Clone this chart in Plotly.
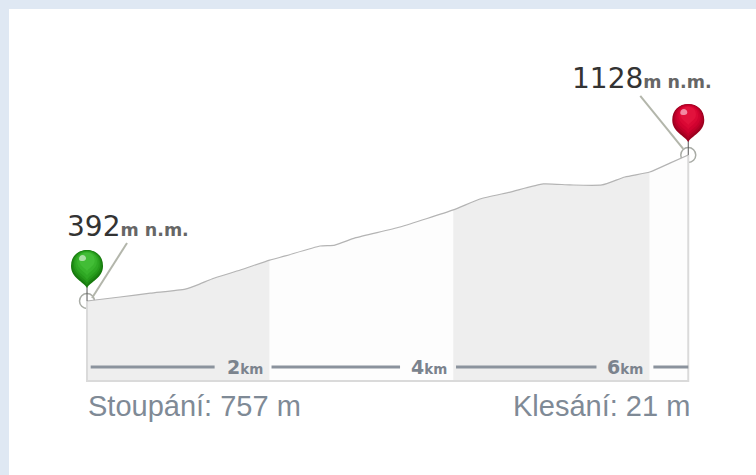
import plotly.graph_objects as go

# Data
distance_km = [0, 0.36, 0.69, 1.07, 1.23, 1.36, 1.67, 1.99, 2.16, 2.54, 2.70, 2.92, 3.41, 3.99,
               4.28, 4.61, 4.97, 5.26, 5.61, 5.86, 6.13, 6.35, 6.55]
elevation_m = [392, 412, 432, 452, 478, 503, 548, 598, 619, 669, 674, 710, 765, 851,
               906, 941, 982, 977, 977, 1017, 1042, 1087, 1128]
band_ends_idx = [0, 7, 13, 20, 22]
band_colors = ["#eeeeee", "#fdfdfd", "#eeeeee", "#fdfdfd"]
scale_segments = [(0.04, 1.39), (2.01, 3.41), (4.02, 5.55), (6.17, 6.55)]
scale_labels = ["2", "4", "6"]
scale_label_x = [1.72, 3.73, 5.86]
base_m = -11
scale_bar_m = 59
start_label, end_label = "392", "1128"
climb_text = "Stoupání: 757 m"
descent_text = "Klesání: 21 m"

W, H = 756, 475
fig = go.Figure()

# end rings, partly hidden by the fill drawn after them
fig.add_trace(go.Scatter(x=[distance_km[0], distance_km[-1]], y=[elevation_m[0], elevation_m[-1]],
                         mode="markers", hoverinfo="skip",
                         marker=dict(symbol="circle-open", size=15, color="#a9aca6", line=dict(width=1.5))))

# banded fill under the profile
for i, color in enumerate(band_colors):
    a, b = band_ends_idx[i], band_ends_idx[i + 1]
    xs = distance_km[a:b + 1]
    ys = elevation_m[a:b + 1]
    fig.add_trace(go.Scatter(x=xs + [xs[-1], xs[0]], y=ys + [base_m, base_m], mode="lines",
                             fill="toself", fillcolor=color, line=dict(width=0), hoverinfo="skip"))

# frame
fig.add_trace(go.Scatter(x=[distance_km[0], distance_km[0], distance_km[-1], distance_km[-1]],
                         y=[elevation_m[0], base_m, base_m, elevation_m[-1]], mode="lines",
                         line=dict(color="#dadada", width=2), hoverinfo="skip"))
# profile line
fig.add_trace(go.Scatter(x=distance_km, y=elevation_m, mode="lines",
                         line=dict(color="#b4b4b4", width=1.2, shape="spline", smoothing=0.5), hoverinfo="skip"))
# scale bars
for x0, x1 in scale_segments:
    fig.add_trace(go.Scatter(x=[x0, x1], y=[scale_bar_m, scale_bar_m], mode="lines",
                             line=dict(color="#8b939d", width=3), hoverinfo="skip"))


def pin_shape(path, ax, ay, **style):
    return dict(type="path", path=path, xref="x", yref="y", xsizemode="pixel", ysizemode="pixel",
                xanchor=ax, yanchor=ay, layer="above", **style)


def balloon(scale, dy=0):
    cy = 34 + dy
    pts = [(0, 13), (-3, 19), (-16, 23), (-16, 35), (-16, 45), (-9, 51), (0, 51),
           (9, 51), (16, 45), (16, 35), (16, 23), (3, 19), (0, 13)]
    p = [(round(x * scale, 2), round(cy + (y - 34) * scale, 2)) for x, y in pts]
    s = f"M {p[0][0]} {p[0][1]}"
    for i in range(1, len(p), 3):
        s += " C " + " ".join(f"{q[0]} {q[1]}" for q in p[i:i + 3])
    return s + " Z"


shapes = []
# page edges
shapes.append(dict(type="rect", xref="paper", yref="paper", x0=0, x1=9 / W, y0=0, y1=1,
                   fillcolor="#dfe8f3", line_width=0))
shapes.append(dict(type="rect", xref="paper", yref="paper", x0=0, x1=1, y0=1 - 9 / H, y1=1,
                   fillcolor="#dfe8f3", line_width=0))

pins = [
    (distance_km[0], elevation_m[0],
     ["#177a0e", "#1f8c15", "#279c1c", "#2fa824", "#38b32c", "#42bd36"], "#a9dfa2", (5, -3, 40, -58)),
    (distance_km[-1], elevation_m[-1],
     ["#9c001f", "#b00025", "#c2002a", "#d0022f", "#da0834", "#e2123c"], "#f28aa2", (-5, -6, -48, -59)),
]
for ax, ay, tones, shine, leader in pins:
    x0, y0, x1, y1 = leader
    shapes.append(dict(type="line", xref="x", yref="y", xsizemode="pixel", ysizemode="pixel",
                       xanchor=ax, yanchor=ay, x0=x0, y0=-y0, x1=x1, y1=-y1, layer="above",
                       line=dict(color="#b3b6ab", width=2)))
    shapes.append(dict(type="line", xref="x", yref="y", xsizemode="pixel", ysizemode="pixel",
                       xanchor=ax, yanchor=ay, x0=0, y0=0, x1=0, y1=14, layer="above",
                       line=dict(color="#555555", width=1)))
    for tone, sc, dy in zip(tones, [1.0, 0.92, 0.83, 0.74, 0.62, 0.48], [0, 1, 2, 3, 4.5, 6]):
        shapes.append(pin_shape(balloon(sc, dy), ax, ay, fillcolor=tone, line_width=0))
    shapes.append(pin_shape("M -8 42 C -8 46 -4 47 -2 45 C 0 43 -1 40 -4 40 C -6 40 -8 40 -8 42 Z",
                            ax, ay, fillcolor=shine, line_width=0))

ann = []


def px_text(x, y, text, anchor, size, color, family):
    ann.append(dict(x=x / W, y=1 - y / H, xref="paper", yref="paper", text=text, showarrow=False,
                    xanchor=anchor, yanchor="middle", font=dict(size=size, color=color, family=family)))


elev = "<span style='font-size:28px'>{}</span><b style='font-size:17.5px;color:#666'>m n.m.</b>"
px_text(65, 226, elev.format(start_label), "left", 28, "#333333", "DejaVu Sans")
px_text(570, 79, elev.format(end_label), "left", 28, "#333333", "DejaVu Sans")
for lab, xv in zip(scale_labels, scale_label_x):
    ann.append(dict(x=xv, y=scale_bar_m, xref="x", yref="y", showarrow=False, xanchor="center", yanchor="middle",
                    text=f"<b style='font-size:19px'>{lab}</b><b style='font-size:13.5px'>km</b>",
                    font=dict(color="#7b838d", family="DejaVu Sans")))
px_text(86, 406, climb_text, "left", 29, "#7f8a96", "Liberation Sans")
px_text(692, 406, descent_text, "right", 29, "#7f8a96", "Liberation Sans")

fig.update_layout(
    width=W, height=H, margin=dict(l=0, r=0, t=0, b=0), showlegend=False,
    paper_bgcolor="#ffffff", plot_bgcolor="#ffffff", shapes=shapes, annotations=ann,
    xaxis=dict(range=[-0.948, 7.288], visible=False, fixedrange=True),
    yaxis=dict(range=[-485, 1909], visible=False, fixedrange=True),
)
fig.write_html("out.html", config=dict(displayModeBar=False),
               post_script="document.body.style.margin='0';")
